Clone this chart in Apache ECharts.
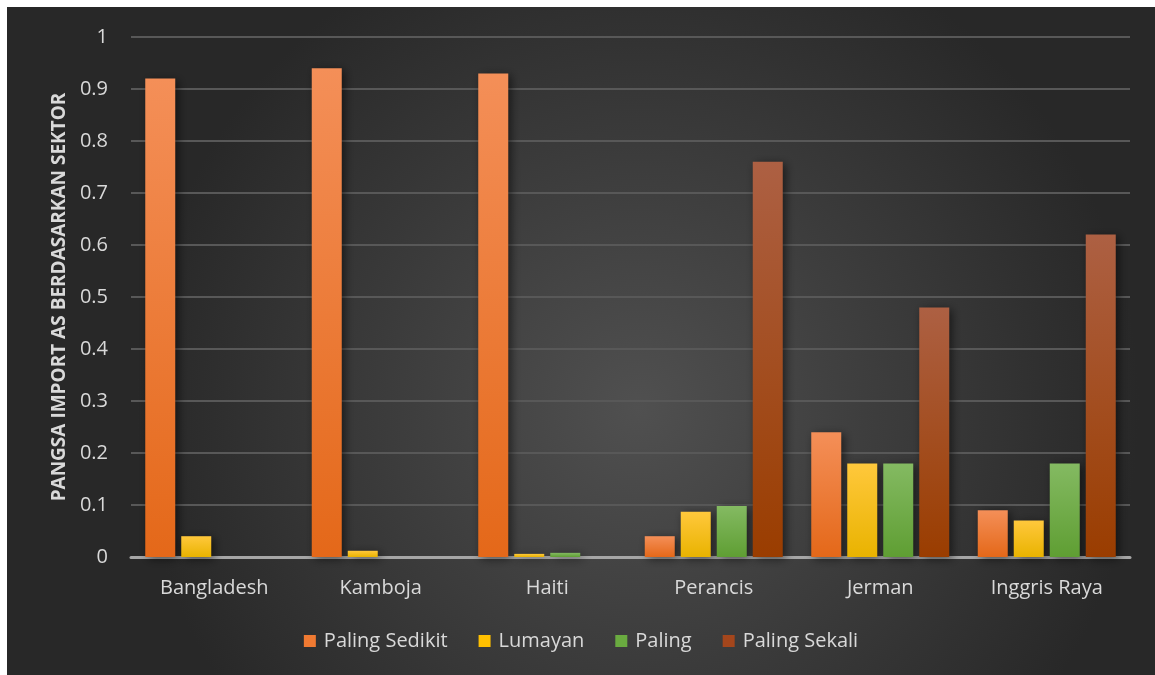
<!DOCTYPE html>
<html><head><meta charset="utf-8">
<script src="https://cdn.jsdelivr.net/npm/echarts@6/dist/echarts.min.js"></script>
<style>
html,body{margin:0;padding:0;background:#fff;width:1155px;height:675px;overflow:hidden}
#c{position:absolute;left:7px;top:7px;width:1148px;height:668px}
</style></head><body>
<div id="c"></div>
<script>
const categories = ['Bangladesh','Kamboja','Haiti','Perancis','Jerman','Inggris Raya'];
const seriesNames = ['Paling Sedikit','Lumayan','Paling','Paling Sekali'];
const palingSedikit = [0.92, 0.94, 0.93, 0.04, 0.24, 0.09];
const lumayan = [0.04, 0.012, 0.006, 0.087, 0.18, 0.07];
const paling = [0, 0, 0.008, 0.098, 0.18, 0.18];
const palingSekali = [0, 0, 0, 0.76, 0.48, 0.62];
const yTicks = [0,0.1,0.2,0.3,0.4,0.5,0.6,0.7,0.8,0.9,1];

const grads = [
  ['#f48f58','#e46819'],
  ['#ffc83c','#e9b300'],
  ['#84ba62','#5f9e33'],
  ['#ad6043','#9a3d00']
];
const legendCols = ['#f07a32','#ffc000','#6aab40','#a4461c'];
const FF = '"Open Sans"';
function lg(c){return new echarts.graphic.LinearGradient(0,0,0,1,[{offset:0,color:c[0]},{offset:1,color:c[1]}]);}
const dataSets = [palingSedikit, lumayan, paling, palingSekali];
const chart = echarts.init(document.getElementById('c'));
chart.setOption({
  backgroundColor: new echarts.graphic.RadialGradient(0.55,0.6,0.75,[{offset:0,color:'#505050'},{offset:1,color:'#282828'}]),
  animation:false,
  textStyle:{fontFamily:FF},
  grid:{left:124,right:25,top:30,bottom:118},
  legend:{
    bottom:19, left:'center', itemWidth:12, itemHeight:12, itemGap:31,
    icon:'rect',
    textStyle:{color:'#d9d9d9',fontSize:20,fontFamily:FF,padding:[0,0,0,3]},
    data: seriesNames.map((n,i)=>({name:n,itemStyle:{color:legendCols[i]}}))
  },
  xAxis:{
    type:'category', data:categories,
    axisLine:{lineStyle:{color:'#a6a6a6',width:3}},
    axisTick:{show:false},
    axisLabel:{color:'#d9d9d9',fontSize:20,margin:21,fontFamily:FF}
  },
  yAxis:{
    type:'value', min:0, max:1, interval:0.1,
    name:'PANGSA IMPORT AS BERDASARKAN SEKTOR',
    nameLocation:'middle', nameGap:62, nameRotate:90,
    nameTextStyle:{color:'#d9d9d9',fontSize:19,fontWeight:'bold',fontFamily:FF},
    axisLine:{show:false}, axisTick:{show:false},
    axisLabel:{color:'#d9d9d9',fontSize:20,margin:23,fontFamily:FF,
      formatter:v=>{const t=yTicks.find(x=>Math.abs(x-v)<1e-9);return String(t!==undefined?t:v);}},
    splitLine:{lineStyle:{color:'#585858',width:2}}
  },
  series: seriesNames.map((n,i)=>({
    name:n, type:'bar', data:dataSets[i], barWidth:30, barGap:'20%',
    itemStyle:{color:lg(grads[i]), shadowColor:'rgba(0,0,0,0.55)', shadowBlur:10, shadowOffsetX:3, shadowOffsetY:2}
  }))
});
</script>
</body></html>
